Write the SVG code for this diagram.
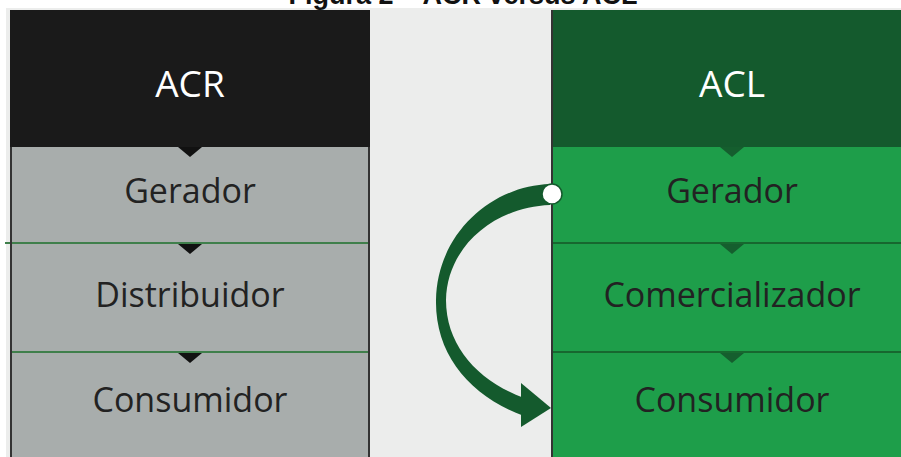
<svg xmlns="http://www.w3.org/2000/svg" width="901" height="457" viewBox="0 0 901 457">
  <defs>
    <style>
      .label { font-family: "Open Sans", "Noto Sans", "DejaVu Sans", sans-serif; font-size: 34px; fill: #222222; text-anchor: middle; }
      .head { font-family: "Open Sans", "Noto Sans", "DejaVu Sans", sans-serif; font-size: 37px; fill: #ffffff; text-anchor: middle; }
      .title { font-family: "Liberation Sans", Arial, sans-serif; font-size: 27px; font-weight: bold; fill: #111111; text-anchor: middle; }
      .acr-row { fill: #a8adac; }
      .acl-row { fill: #1e9e4a; }
      .acr-sep { stroke: #3f7f4b; stroke-width: 2; }
      .acl-sep { stroke: #17672f; stroke-width: 2; }
      .edge { stroke: #333333; stroke-width: 2; }
      .tri-dark { fill: #111111; }
      .tri-green { fill: #155e2e; }
    </style>
  </defs>

  <!-- page background -->
  <rect x="0" y="0" width="901" height="457" fill="#ffffff"/>
  <rect x="6" y="8" width="895" height="449" fill="#ecedec"/>

  <!-- caption, cut by the top edge -->
  <text class="title" x="463" y="4">Figura 2 – ACR versus ACL</text>

  <!-- ACR column -->
  <g id="acr-header">
    <rect x="10" y="10" width="360" height="137" fill="#1a1a1a"/>
    <text class="head" x="190" y="97">ACR</text>
  </g>
  <g id="acr-gerador">
    <rect class="acr-row" x="10" y="147" width="360" height="96"/>
    <polygon class="tri-dark" points="178,147 202,147 190,157"/>
    <text class="label" x="190" y="203">Gerador</text>
  </g>
  <g id="acr-distribuidor">
    <rect class="acr-row" x="10" y="243" width="360" height="109"/>
    <polygon class="tri-dark" points="178,244 202,244 190,254"/>
    <text class="label" x="190" y="307">Distribuidor</text>
  </g>
  <g id="acr-consumidor">
    <rect class="acr-row" x="10" y="352" width="360" height="105"/>
    <polygon class="tri-dark" points="178,353 202,353 190,363"/>
    <text class="label" x="190" y="412">Consumidor</text>
  </g>
  <line class="acr-sep" x1="5" y1="243" x2="370" y2="243"/>
  <line class="acr-sep" x1="10" y1="352" x2="370" y2="352"/>
  <line class="edge" x1="11" y1="147" x2="11" y2="457"/>
  <line class="edge" x1="369" y1="147" x2="369" y2="457"/>

  <!-- ACL column -->
  <g id="acl-header">
    <rect x="552" y="10" width="349" height="137" fill="#145a2d"/>
    <text class="head" x="732" y="97">ACL</text>
  </g>
  <g id="acl-gerador">
    <rect class="acl-row" x="552" y="147" width="349" height="96"/>
    <polygon class="tri-green" points="720,147 744,147 732,157"/>
    <text class="label" x="732" y="203">Gerador</text>
  </g>
  <g id="acl-comercializador">
    <rect class="acl-row" x="552" y="243" width="349" height="109"/>
    <polygon class="tri-green" points="720,244 744,244 732,254"/>
    <text class="label" x="732" y="307">Comercializador</text>
  </g>
  <g id="acl-consumidor">
    <rect class="acl-row" x="552" y="352" width="349" height="105"/>
    <polygon class="tri-green" points="720,353 744,353 732,363"/>
    <text class="label" x="732" y="412">Consumidor</text>
  </g>
  <line class="acl-sep" x1="552" y1="243" x2="901" y2="243"/>
  <line class="acl-sep" x1="552" y1="352" x2="901" y2="352"/>
  <line class="edge" x1="552" y1="10" x2="552" y2="457"/>

  <!-- curved arrow from ACL Gerador to ACL Consumidor -->
  <g id="connectors">
    <path d="M550,184 C490,186 437,235 436,300 C435,355 470,396 524,416 L524,398 C478,381 446,346 446,300 C447,246 495,207 550,205 Z" fill="#145a2d"/>
    <polygon points="521,383 551,408 521,427" fill="#145a2d"/>
    <circle cx="552" cy="194" r="10" fill="#ffffff" stroke="#145a2d" stroke-width="1.5"/>
  </g>
</svg>
